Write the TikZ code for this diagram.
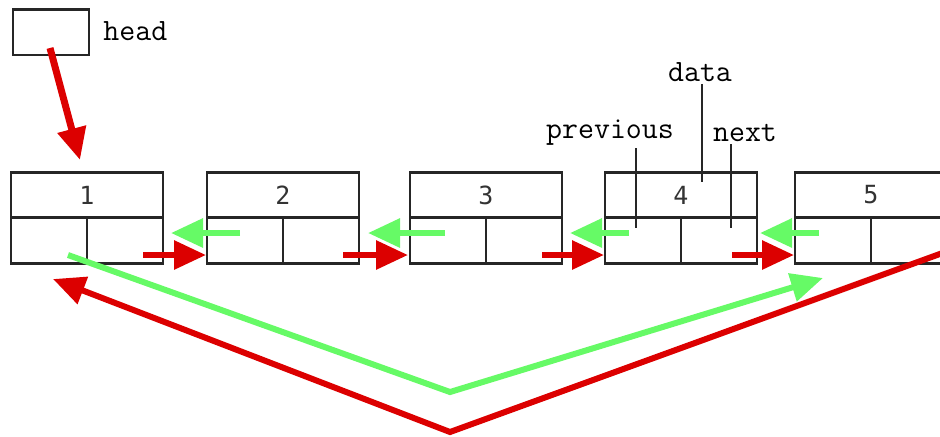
\documentclass[tikz,border=0pt]{standalone}
\usepackage{fontspec}
\newfontfamily\digitfont{DejaVu Sans Mono}
\usetikzlibrary{arrows.meta}

\definecolor{linkgreen}{RGB}{102,250,102}
\definecolor{linkred}{RGB}{220,0,0}

\begin{document}
\begin{tikzpicture}[
      x = .5pt, y = -.5pt,
      cell/.style = {
        rectangle, draw, black!85, line width = 1.3pt, inner sep = 0pt,
        minimum height = 22.8pt},
      datacell/.style = {cell, minimum width = 76pt, text = black!80,
        font = \digitfont\fontsize{12.5}{14}\selectfont},
      ptrcell/.style = {cell, minimum width = 38pt},
      label/.style = {inner sep = 1pt,
        font = \ttfamily\fontsize{15.5}{18}\selectfont},
      fwd/.style = {linkred, line width = 3pt,
        -{Triangle[length = 16pt, width = 14pt]}},
      back/.style = {linkgreen, line width = 3pt,
        -{Triangle[length = 16pt, width = 14pt]}},
      tag/.style = {black!85, line width = 1.3pt}
      ]
    \useasboundingbox (0,0) rectangle (940,436);
    % head pointer
    \node[cell, minimum width = 38pt] (head) at (51,32) {};
    \node[label, anchor = west] (headlbl) at (101,31) {head};
    % list elements
    \node[datacell] (d1) at (87,195) {1};
    \node[ptrcell] (p1) at (49,240.5) {};
    \node[ptrcell] (n1) at (125,240.5) {};
    \node[datacell] (d2) at (283,195) {2};
    \node[ptrcell] (p2) at (245,240.5) {};
    \node[ptrcell] (n2) at (321,240.5) {};
    \node[datacell] (d3) at (486,195) {3};
    \node[ptrcell] (p3) at (448,240.5) {};
    \node[ptrcell] (n3) at (524,240.5) {};
    \node[datacell] (d4) at (681,195) {4};
    \node[ptrcell] (p4) at (643,240.5) {};
    \node[ptrcell] (n4) at (719,240.5) {};
    \node[datacell] (d5) at (871,195) {5};
    \node[ptrcell] (p5) at (833,240.5) {};
    \node[ptrcell] (n5) at (909,240.5) {};
    % field labels
    \node[label] (data) at (700,72) {data};
    \node[label] (prev) at (610,133) {previous};
    \node[label] (next) at (745,133) {next};
    \coordinate (dataend) at (702,182);
    \coordinate (prevend) at (636,228);
    \coordinate (nextend) at (731,228);
    \draw[tag] (dataend |- data.south) -- (dataend);
    \draw[tag] (prevend |- prev.south) -- (prevend);
    \draw[tag] (nextend |- next.south) -- (nextend);
    % head arrow
    \coordinate (hs) at (50,48);
    \coordinate (he) at (80,160);
    \draw[fwd, line width = 3.5pt] (hs) -- (he);
    % next links
    \coordinate (f1s) at (143,255); \coordinate (f1e) at (206,255);
    \coordinate (f2s) at (343,255); \coordinate (f2e) at (408,255);
    \coordinate (f3s) at (542,255); \coordinate (f3e) at (604,255);
    \coordinate (f4s) at (732,255); \coordinate (f4e) at (794,255);
    \draw[fwd] (f1s) -- (f1e);
    \draw[fwd] (f2s) -- (f2e);
    \draw[fwd] (f3s) -- (f3e);
    \draw[fwd] (f4s) -- (f4e);
    % previous links
    \coordinate (b1s) at (240,233); \coordinate (b1e) at (171,233);
    \coordinate (b2s) at (445,233); \coordinate (b2e) at (368,233);
    \coordinate (b3s) at (629,233); \coordinate (b3e) at (570,233);
    \coordinate (b4s) at (819,233); \coordinate (b4e) at (760,233);
    \draw[back] (b1s) -- (b1e);
    \draw[back] (b2s) -- (b2e);
    \draw[back] (b3s) -- (b3e);
    \draw[back] (b4s) -- (b4e);
    % circular links
    \coordinate (gs) at (68,255);
    \coordinate (gm) at (450,392);
    \coordinate (ge) at (823,278);
    \coordinate (rs) at (948,251);
    \coordinate (rm) at (450,432);
    \coordinate (re) at (53,279);
    \draw[back] (gs) -- (gm) -- (ge);
    \draw[fwd] (rs) -- (rm) -- (re);
  \end{tikzpicture}
\end{document}
